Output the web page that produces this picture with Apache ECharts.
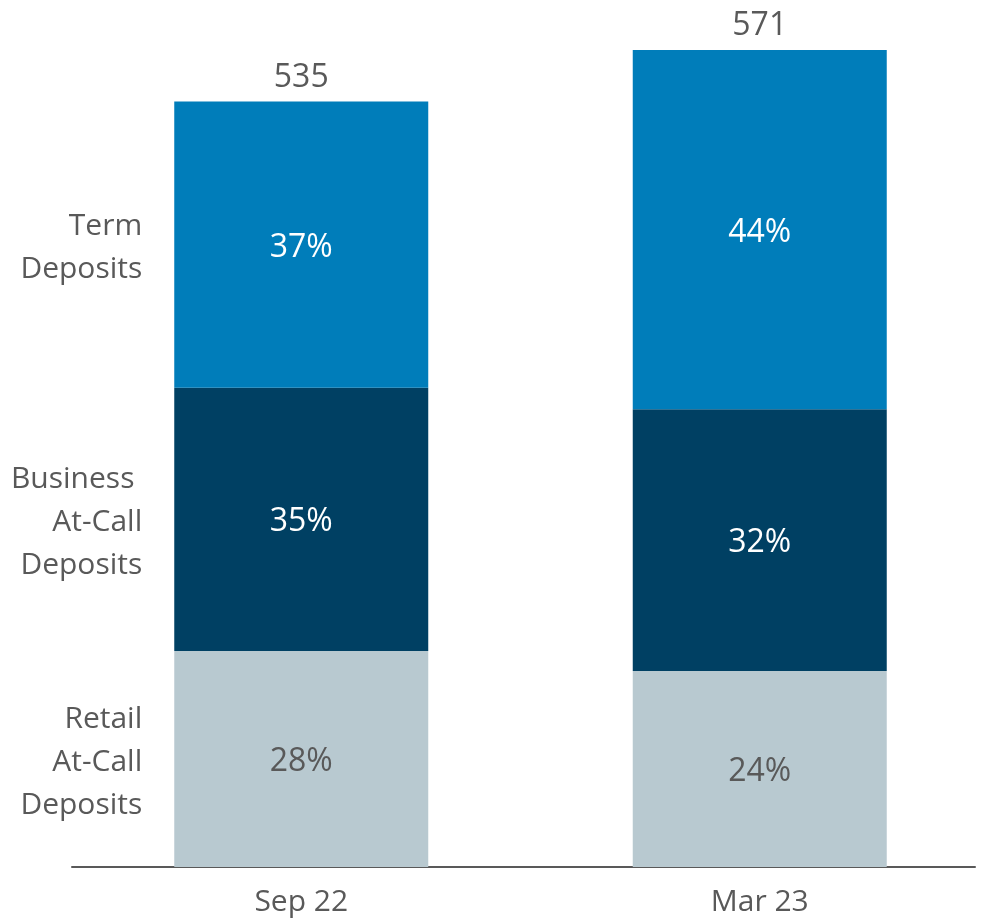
<!DOCTYPE html>
<html>
<head>
<meta charset="utf-8">
<script src="https://cdn.jsdelivr.net/npm/echarts@6/dist/echarts.min.js"></script>
<style>
html,body{margin:0;padding:0;background:#fff;}
#chart{width:989px;height:921px;}
</style>
</head>
<body>
<div id="chart"></div>
<script>
const categories = ['Sep 22', 'Mar 23'];
const totals = [535, 571];
const retailValues = [151, 137];
const businessValues = [184, 183];
const termValues = [200, 251];
const retailPct = ['28%', '24%'];
const businessPct = ['35%', '32%'];
const termPct = ['37%', '44%'];
const segmentNames = ['Retail\nAt-Call\nDeposits', 'Business \nAt-Call\nDeposits', 'Term\nDeposits'];

const FONT = '"Open Sans", "Noto Sans", sans-serif';
const TXT = '#595959';
const colors = ['#b8c9d0', '#004063', '#007dba'];
const valueSets = [retailValues, businessValues, termValues];
const pctSets = [retailPct, businessPct, termPct];
const pctColors = [TXT, '#ffffff', '#ffffff'];

const chart = echarts.init(document.getElementById('chart'), null, {renderer: 'canvas'});

const series = [];
// visible stacked bars with percentage labels
valueSets.forEach((vals, i) => {
  series.push({
    type: 'bar', stack: 'main', xAxisIndex: 0, yAxisIndex: 0,
    barWidth: 254,
    data: vals,
    itemStyle: {color: colors[i]},
    label: {
      show: true, position: 'inside', offset: [0, 3],
      fontFamily: FONT, fontSize: 32, color: pctColors[i],
      formatter: p => pctSets[i][p.dataIndex]
    }
  });
});
// transparent overlay bars carrying the segment names at the left of the first bar
valueSets.forEach((vals, i) => {
  series.push({
    type: 'bar', stack: 'names', xAxisIndex: 1, yAxisIndex: 0,
    barWidth: 254, silent: true,
    itemStyle: {color: 'rgba(0,0,0,0)'},
    data: vals.map((v, j) => j === 0 ? {
      value: v,
      label: {
        show: true, position: 'left', distance: 32, align: 'right', offset: [0, 3],
        fontFamily: FONT, fontSize: 30, lineHeight: 43, color: TXT,
        formatter: segmentNames[i]
      }
    } : v)
  });
});
// totals above the stacks
series.push({
  type: 'bar', stack: 'names', xAxisIndex: 1, yAxisIndex: 0,
  barWidth: 254, silent: true,
  itemStyle: {color: 'rgba(0,0,0,0)'},
  data: totals.map(() => 0),
  label: {
    show: true, position: 'top', distance: 8,
    fontFamily: FONT, fontSize: 32, color: TXT,
    formatter: p => String(totals[p.dataIndex])
  }
});

chart.setOption({
  animation: false,
  grid: [
    {left: 72, right: 0, top: 50, bottom: 54},
    {left: 72, right: 14, top: 50, bottom: 54}
  ],
  xAxis: [
    {type: 'category', gridIndex: 0, data: categories,
     axisLine: {show: false}, axisTick: {show: false},
     axisLabel: {fontFamily: FONT, fontSize: 30, color: TXT, margin: 20}},
    {type: 'category', gridIndex: 0, data: categories, show: false},
    {type: 'category', gridIndex: 1, data: categories,
     axisLine: {show: true, lineStyle: {color: '#595959', width: 2}},
     axisTick: {show: false}, axisLabel: {show: false}}
  ],
  yAxis: [
    {type: 'value', gridIndex: 0, min: 0, max: 571, show: false, splitLine: {show: false}},
    {type: 'value', gridIndex: 1, min: 0, max: 571, show: false, splitLine: {show: false}}
  ],
  series: series
});
</script>
</body>
</html>
